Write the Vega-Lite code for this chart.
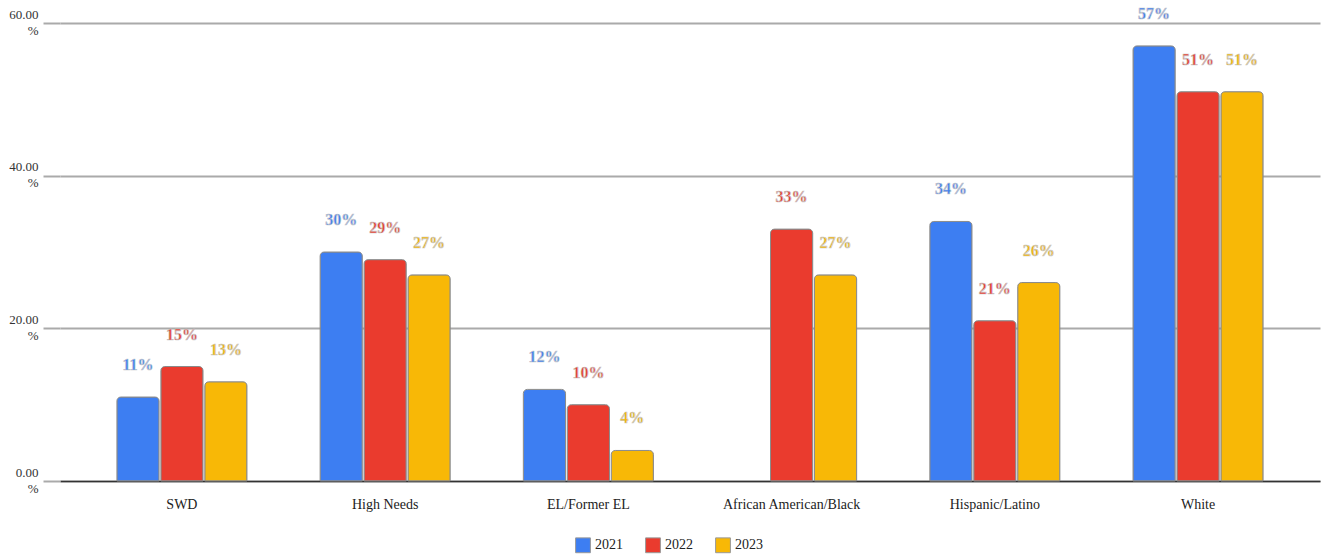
{
  "$schema": "https://vega.github.io/schema/vega-lite/v6.json",
  "width": 1260,
  "height": 458,
  "autosize": {"type": "none"},
  "padding": {"left": 60, "top": 23, "right": 2, "bottom": 78},
  "background": "white",
  "config": {
    "view": {"stroke": null},
    "font": "Liberation Serif",
    "axis": {"labelFont": "Liberation Serif", "titleFont": "Liberation Serif"},
    "legend": {"labelFont": "Liberation Serif"}
  },
  "data": {
    "values": [
      {"group": "SWD", "year": "2021", "value": 11},
      {"group": "SWD", "year": "2022", "value": 15},
      {"group": "SWD", "year": "2023", "value": 13},
      {"group": "High Needs", "year": "2021", "value": 30},
      {"group": "High Needs", "year": "2022", "value": 29},
      {"group": "High Needs", "year": "2023", "value": 27},
      {"group": "EL/Former EL", "year": "2021", "value": 12},
      {"group": "EL/Former EL", "year": "2022", "value": 10},
      {"group": "EL/Former EL", "year": "2023", "value": 4},
      {"group": "African American/Black", "year": "2022", "value": 33},
      {"group": "African American/Black", "year": "2023", "value": 27},
      {"group": "Hispanic/Latino", "year": "2021", "value": 34},
      {"group": "Hispanic/Latino", "year": "2022", "value": 21},
      {"group": "Hispanic/Latino", "year": "2023", "value": 26},
      {"group": "White", "year": "2021", "value": 57},
      {"group": "White", "year": "2022", "value": 51},
      {"group": "White", "year": "2023", "value": 51}
    ]
  },
  "encoding": {
    "x": {
      "field": "group", "type": "nominal", "sort": null,
      "scale": {"paddingInner": 0.36, "paddingOuter": 0.28},
      "axis": {"title": null, "labelAngle": 0, "labelFontSize": 14, "labelColor": "#222", "ticks": false, "domainColor": "#333", "domainWidth": 1.5, "labelPadding": 16}
    },
    "xOffset": {"field": "year", "type": "nominal", "scale": {"paddingInner": 0.04}},
    "y": {
      "field": "value", "type": "quantitative",
      "scale": {"domain": [0, 60]},
      "axis": {"title": null, "values": [0, 20, 40, 60], "labelExpr": "[format(datum.value, '.2f'), '%']", "labelFontSize": 13, "labelColor": "#333", "labelLineHeight": 16, "labelOffset": -9, "gridColor": "#aaaaaa", "gridWidth": 2, "tickColor": "#aaaaaa", "tickWidth": 2, "tickSize": 17, "labelPadding": 5, "domain": false}
    },
    "color": {
      "field": "year", "type": "nominal",
      "scale": {"domain": ["2021", "2022", "2023"], "range": ["#3d7ef2", "#ea3b2e", "#f8b806"]},
      "legend": {"title": null, "orient": "none", "legendX": 515, "legendY": 514, "direction": "horizontal", "symbolType": "square", "symbolSize": 220, "symbolStrokeColor": "#999", "symbolStrokeWidth": 1, "labelFont": "Liberation Serif", "labelFontSize": 14, "labelColor": "#222", "columnPadding": 20}
    }
  },
  "layer": [
    {
      "mark": {"type": "bar", "stroke": "#8a8a8a", "strokeWidth": 1, "cornerRadiusTopLeft": 4, "cornerRadiusTopRight": 4}
    },
    {
      "transform": [{"calculate": "format(datum.value, '.0f') + '%'", "as": "label"}],
      "mark": {"type": "text", "dy": -32, "baseline": "middle", "fontSize": 16, "fontWeight": "bold", "stroke": "#c8c8c8", "strokeWidth": 0.6, "clip": false},
      "encoding": {"text": {"field": "label", "type": "nominal"}}
    }
  ]
}
